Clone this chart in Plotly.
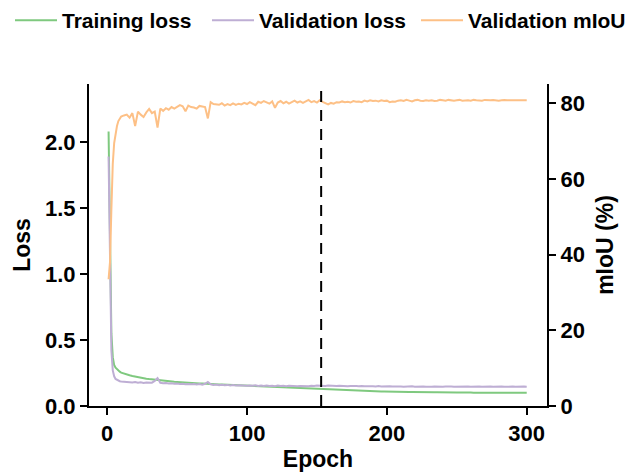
import plotly.graph_objects as go

# ---------------- data ----------------
epochs = list(range(1, 11)) + list(range(12, 301, 2))

train_loss = [
    2.08, 1.15, 0.55, 0.37, 0.31, 0.29, 0.278, 0.268, 0.26, 0.253,
    # 12..100
    0.245, 0.238, 0.233, 0.228, 0.223, 0.219, 0.214, 0.211, 0.207, 0.204,
    0.201, 0.198, 0.196, 0.193, 0.191, 0.189, 0.187, 0.185, 0.183, 0.182,
    0.180, 0.179, 0.177, 0.176, 0.175, 0.173, 0.172, 0.171, 0.170, 0.168,
    0.167, 0.166, 0.165, 0.164, 0.163, 0.162, 0.161, 0.160, 0.159, 0.158,
    0.157, 0.156, 0.155, 0.154, 0.153,
    # 102..200
    0.152, 0.151, 0.150, 0.149, 0.148, 0.147, 0.146, 0.145, 0.144, 0.143,
    0.142, 0.141, 0.140, 0.139, 0.138, 0.137, 0.136, 0.135, 0.134, 0.133,
    0.132, 0.131, 0.130, 0.129, 0.128, 0.127, 0.126, 0.125, 0.124, 0.123,
    0.122, 0.121, 0.120, 0.120, 0.119, 0.118, 0.117, 0.116, 0.116, 0.115,
    0.114, 0.114, 0.113, 0.112, 0.112, 0.111, 0.111, 0.110, 0.110, 0.109,
    # 202..300
    0.109, 0.108, 0.109, 0.108, 0.107, 0.108, 0.107, 0.106, 0.107, 0.106,
    0.105, 0.106, 0.105, 0.105, 0.104, 0.105, 0.104, 0.104, 0.103, 0.104,
    0.103, 0.103, 0.102, 0.103, 0.102, 0.102, 0.103, 0.102, 0.101, 0.102,
    0.101, 0.102, 0.101, 0.101, 0.100, 0.101, 0.101, 0.100, 0.101, 0.100,
    0.101, 0.100, 0.100, 0.101, 0.100, 0.100, 0.099, 0.100, 0.100, 0.100,
]

val_loss = [
    1.89, 0.98, 0.42, 0.27, 0.225, 0.205, 0.197, 0.192, 0.188, 0.186,
    # 12..100
    0.184, 0.181, 0.183, 0.178, 0.181, 0.176, 0.179, 0.174, 0.178, 0.175,
    0.177, 0.190, 0.212, 0.176, 0.172, 0.174, 0.170, 0.173, 0.168, 0.171,
    0.166, 0.169, 0.165, 0.167, 0.164, 0.167, 0.163, 0.166, 0.162, 0.168,
    0.182, 0.165, 0.160, 0.162, 0.158, 0.161, 0.157, 0.160, 0.156, 0.159,
    0.155, 0.158, 0.155, 0.157, 0.154,
    # 102..200
    0.156, 0.153, 0.157, 0.152, 0.155, 0.151, 0.156, 0.152, 0.154, 0.150,
    0.155, 0.151, 0.153, 0.150, 0.154, 0.151, 0.153, 0.149, 0.152, 0.150,
    0.153, 0.149, 0.154, 0.151, 0.155, 0.153, 0.156, 0.152, 0.155, 0.153,
    0.156, 0.152, 0.154, 0.151, 0.153, 0.150, 0.152, 0.149, 0.151, 0.149,
    0.152, 0.149, 0.151, 0.148, 0.150, 0.148, 0.151, 0.148, 0.150, 0.148,
    # 202..300
    0.149, 0.147, 0.149, 0.146, 0.148, 0.146, 0.148, 0.147, 0.149, 0.146,
    0.148, 0.146, 0.147, 0.145, 0.148, 0.146, 0.147, 0.145, 0.147, 0.146,
    0.148, 0.145, 0.147, 0.146, 0.147, 0.145, 0.147, 0.146, 0.148, 0.145,
    0.147, 0.146, 0.147, 0.145, 0.147, 0.146, 0.147, 0.145, 0.147, 0.146,
    0.147, 0.145, 0.147, 0.146, 0.147, 0.145, 0.147, 0.146, 0.147, 0.146,
]

val_miou = [
    33.5, 38.0, 52.0, 64.0, 69.5, 72.5, 74.0, 75.3, 76.0, 76.5,
    # 12..100
    76.8, 77.0, 76.2, 77.4, 74.0, 77.8, 77.0, 76.4, 77.6, 78.5,
    77.4, 77.8, 73.6, 78.6, 78.0, 78.7, 78.3, 79.0, 78.6, 79.0,
    79.5, 79.2, 77.9, 79.4, 79.0, 78.9, 78.6, 79.3, 79.1, 79.0,
    76.0, 80.3, 79.8, 79.6, 79.6, 80.0, 79.4, 79.8, 79.5, 80.0,
    79.6, 79.9, 79.7, 80.1, 79.8,
    # 102..200
    80.3, 80.0, 79.5, 80.4, 80.1, 80.6, 80.2, 79.9, 80.5, 78.8,
    80.2, 80.6, 80.0, 80.4, 79.9, 80.3, 80.7, 80.2, 80.5, 80.1,
    80.6, 80.9, 80.3, 80.6, 80.2, 80.8, 80.4, 80.0, 79.7, 80.1,
    79.9, 80.3, 80.2, 80.5, 80.3, 80.4, 80.2, 80.6, 80.4, 80.5,
    80.3, 80.7, 80.5, 80.8, 80.6, 80.7, 80.5, 80.8, 80.6, 80.7,
    # 202..300
    80.3, 80.5, 80.4, 80.7, 80.8, 80.6, 80.9, 80.7, 80.5, 80.8,
    80.9, 80.7, 80.6, 80.8, 80.7, 80.8, 80.6, 80.7, 80.9, 80.8,
    80.7, 80.9, 80.8, 80.7, 80.8, 80.9, 80.7, 80.8, 80.8, 80.7,
    80.9, 80.8, 80.8, 80.7, 80.9, 80.8, 80.8, 80.9, 80.8, 80.7,
    80.8, 80.9, 80.8, 80.8, 80.9, 80.8, 80.9, 80.8, 80.8, 80.8,
]

best_epoch = 153
series_names = ["Training loss", "Validation loss", "Validation mIoU"]
series_colors = ["#7FC97F", "#BEAED4", "#FDC086"]
x_ticks = [0, 100, 200, 300]
loss_ticks = [0.0, 0.5, 1.0, 1.5, 2.0]
loss_ticktext = ["0.0", "0.5", "1.0", "1.5", "2.0"]
miou_ticks = [0, 20, 40, 60, 80]

# ---------------- figure ----------------
FONT = "Liberation Sans, Arial, sans-serif"
W, H = 635, 472
legend_ids = ["legend", "legend2", "legend3"]
legend_left_px = [10, 207, 416]

fig = go.Figure()
fig.add_trace(go.Scatter(x=epochs, y=train_loss, name=series_names[0], mode="lines",
                         line=dict(color=series_colors[0], width=2), yaxis="y",
                         legend=legend_ids[0]))
fig.add_trace(go.Scatter(x=epochs, y=val_loss, name=series_names[1], mode="lines",
                         line=dict(color=series_colors[1], width=2), yaxis="y",
                         legend=legend_ids[1]))
fig.add_trace(go.Scatter(x=epochs, y=val_miou, name=series_names[2], mode="lines",
                         line=dict(color=series_colors[2], width=2), yaxis="y2",
                         legend=legend_ids[2]))

fig.add_shape(type="line", xref="x", yref="paper", x0=best_epoch, x1=best_epoch, y0=0, y1=1,
              line=dict(color="black", width=2, dash="11px,8px"))

tick_font = dict(family=FONT, size=22, color="black", weight="bold")
title_font = dict(family=FONT, size=23, color="black", weight="bold")
axis_common = dict(showline=True, linecolor="black", linewidth=2, ticks="outside", ticklen=7,
                   tickwidth=2, tickcolor="black", showgrid=False, zeroline=False,
                   tickfont=tick_font)

legend_common = dict(orientation="h", xref="container", yref="container", y=1.0,
                     xanchor="left", yanchor="top", itemwidth=42,
                     font=dict(family=FONT, size=21, color="black", weight="bold"),
                     bgcolor="rgba(0,0,0,0)")

fig.update_layout(
    width=W, height=H,
    margin=dict(l=89, r=88, t=84, b=66, autoexpand=False),
    plot_bgcolor="white", paper_bgcolor="white",
    font=dict(family=FONT, size=20, color="black", weight="bold"),
    showlegend=True,
    legend=dict(x=legend_left_px[0] / W, **legend_common),
    legend2=dict(x=legend_left_px[1] / W, **legend_common),
    legend3=dict(x=legend_left_px[2] / W, **legend_common),
    xaxis=dict(range=[-13, 314.5], tickvals=x_ticks, **axis_common,
               title=dict(text="Epoch", font=title_font, standoff=8)),
    yaxis=dict(range=[0, 2.44], tickvals=loss_ticks, ticktext=loss_ticktext, **axis_common,
               title=dict(text="Loss", font=title_font, standoff=8)),
    yaxis2=dict(range=[0, 85.1], tickvals=miou_ticks, overlaying="y", side="right", **axis_common,
                title=dict(text="mIoU (%)", font=title_font, standoff=13)),
)

fig.write_html("out.html")
